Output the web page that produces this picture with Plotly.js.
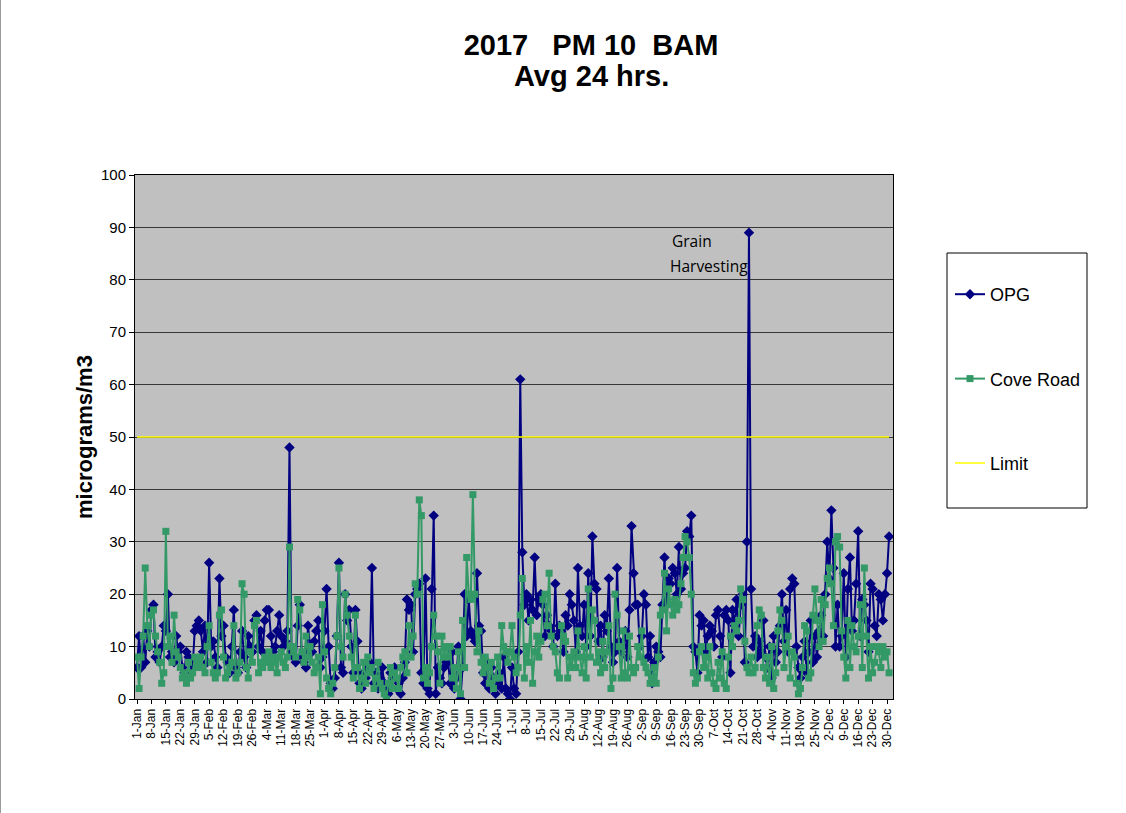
<!DOCTYPE html>
<html>
<head>
<meta charset="utf-8">
<script src="https://cdn.plot.ly/plotly-3.0.1.min.js"></script>
<style>
  html, body { margin: 0; padding: 0; background: #ffffff; }
  #wrap { position: relative; width: 1126px; height: 813px; }
  #chart { width: 1126px; height: 813px; }
  #edge { position: absolute; left: 0; top: 0; width: 1px; height: 813px; background: #9a9a9a; }
</style>
</head>
<body>
<div id="wrap"><div id="chart"></div><div id="edge"></div></div>
<script>
// ---- Categories (the original sheet uses a leap-year date axis: 4-Mar ... 30-Dec) ----
const monthNames = ['Jan','Feb','Mar','Apr','May','Jun','Jul','Aug','Sep','Oct','Nov','Dec'];
const monthLengths = [31,29,31,30,31,30,31,31,30,31,30,31];

// ---- OPG series (daily 24-hr average, micrograms/m3) ----
const opgJan = [6,12,6,12,7,13,10,17,18,8,9,7,10,14,13,20,8,9,7,12,9,10,6,5,9,8,7,6,13,14,15];
const opgFeb = [13,9,14,7,26,10,11,8,6,23,12,14,8,7,5,10,17,6,5,9,13,8,6,12,10,9,15,16,10];
const opgMar = [13,9,15,17,17,12,9,10,13,16,12,10,11,13,48,9,8,7,14,18,8,7,6,14,10,9,11,13,15,6,8];
const opgApr = [13,21,10,3,2,4,12,26,6,5,20,15,17,10,5,17,11,3,2,5,4,6,7,25,3,5,2,4,6,3];
const opgMay = [2,1,5,4,6,2,3,1,4,7,19,17,18,9,20,21,22,5,3,23,2,1,21,35,1,6,4,3,6,7,7];
const opgJun = [3,9,2,4,10,0,6,20,12,19,13,12,11,24,14,13,5,3,7,2,6,4,1,3,5,2,8,2,1,0];
const opgJul = [6,2,1,9,61,28,18,20,15,19,17,27,16,19,20,18,12,16,14,13,10,22,12,14,13,9,16,14,20,18,15];
const opgAug = [9,25,14,12,18,10,24,12,31,22,21,11,14,8,16,13,23,10,7,9,25,11,9,10,13,8,17,33,24,18,18];
const opgSep = [10,12,20,18,8,12,3,7,10,9,8,18,27,19,23,22,25,24,20,29,21,24,25,32,31,35,10,9,5,16];
const opgOct = [14,15,9,12,14,13,10,16,17,12,8,16,17,15,5,17,14,19,12,18,20,7,30,89,21,10,12,8,11,9,15];
const opgNov = [8,6,10,4,12,7,9,14,20,11,17,9,21,23,22,10,6,4,8,11,5,9,15,7,12,8,13,16,12,20];
const opgDec = [30,23,36,25,10,18,10,12,24,8,21,27,13,15,22,32,12,19,18,15,9,22,21,14,12,20,19,15,20,24,31];

// ---- Cove Road series ----
const coveJan = [8,2,8,12,25,14,10,16,17,12,9,7,3,5,32,10,12,7,16,9,8,6,4,5,3,7,4,5,8,6,7];
const coveFeb = [8,6,5,10,14,7,5,4,5,16,17,8,4,5,6,7,14,4,5,7,22,20,6,4,9,7,14,15,5];
const coveMar = [7,6,8,7,9,6,8,7,5,8,9,7,6,8,29,10,9,8,19,17,9,7,12,8,10,7,5,6,8,1,18];
const coveApr = [9,4,2,1,3,6,12,25,10,8,20,16,12,8,4,16,6,2,4,7,3,8,5,6,2,4,7,3,2,1];
const coveMay = [0,3,6,2,5,4,2,6,8,9,5,14,8,12,22,20,38,35,4,6,3,5,10,16,12,9,3,12,8,10,8];
const coveJun = [10,4,6,2,9,1,15,6,27,20,19,39,20,9,13,7,5,8,6,3,7,2,4,8,4,14,10,9,7,9];
const coveJul = [14,8,5,6,16,23,4,10,7,15,3,9,12,8,11,19,20,14,24,12,10,9,5,4,14,12,11,4,8,6,9];
const coveAug = [6,13,8,5,10,4,21,8,17,15,7,9,5,11,6,9,14,2,4,20,16,10,4,13,5,4,12,6,5,6,10];
const coveSep = [8,13,7,6,5,3,4,6,3,8,16,17,24,13,21,18,16,19,17,18,22,27,31,30,27,20,5,3,4,9];
const coveOct = [10,6,8,4,10,5,3,2,7,4,9,3,2,8,12,10,14,13,15,21,19,11,6,5,8,5,6,14,17,16,6];
const coveNov = [4,8,3,10,2,5,13,17,15,6,10,12,4,9,8,3,1,2,6,14,13,4,5,16,21,15,10,19,11,18];
const coveDec = [23,25,22,14,30,31,29,13,8,4,15,6,14,10,9,12,18,6,25,12,4,10,5,7,10,9,6,10,8,9,5];

const limitValue = 50;
const yTicks = [0,10,20,30,40,50,60,70,80,90,100];

// ---- Build category labels ----
const dayLabels = [];
monthNames.forEach((m, mi) => {
  for (let d = 1; d <= monthLengths[mi]; d++) dayLabels.push(d + '-' + m);
});
const weeklyTicks = dayLabels.filter((_, i) => i % 7 === 0);

const opg = [].concat(opgJan, opgFeb, opgMar, opgApr, opgMay, opgJun, opgJul, opgAug, opgSep, opgOct, opgNov, opgDec);
const cove = [].concat(coveJan, coveFeb, coveMar, coveApr, coveMay, coveJun, coveJul, coveAug, coveSep, coveOct, coveNov, coveDec);

const traces = [
  {
    x: dayLabels, y: opg, name: 'OPG', type: 'scatter', mode: 'lines+markers',
    legendgroup: 'a',
    line: { color: '#000080', width: 2 },
    marker: { symbol: 'diamond', size: 8, color: '#000080' }
  },
  {
    x: dayLabels, y: cove, name: 'Cove Road', type: 'scatter', mode: 'lines+markers',
    legendgroup: 'b',
    line: { color: '#339966', width: 2 },
    marker: { symbol: 'square', size: 7, color: '#339966' }
  },
  {
    x: [dayLabels[0], dayLabels[dayLabels.length - 1]], y: [limitValue, limitValue],
    name: 'Limit', type: 'scatter', mode: 'lines', legendgroup: 'c',
    line: { color: '#ffff00', width: 1.5 }
  }
];

const W = 1126, H = 813, L = 135, R = 233, T = 175, B = 114;
const pw = W - L - R, ph = H - T - B;
const px = v => (v - L) / pw;
const py = v => (H - B - v) / ph;
const FONT = 'Arial, "Liberation Sans", sans-serif';

const layout = {
  width: W, height: H,
  margin: { l: L, r: R, t: T, b: B, pad: 0 },
  paper_bgcolor: '#ffffff',
  plot_bgcolor: '#c0c0c0',
  font: { family: FONT, color: '#000000' },
  title: {
    text: '<b>2017\u00a0\u00a0\u00a0PM 10\u00a0\u00a0BAM</b>',
    font: { size: 29, family: FONT, color: '#000' },
    x: 591 / W, xref: 'container', xanchor: 'center',
    y: 1 - 45 / H, yref: 'container', yanchor: 'middle'
  },
  xaxis: {
    type: 'category',
    range: [-0.97, 366.9],
    tickmode: 'array', tickvals: weeklyTicks, ticktext: weeklyTicks,
    tickangle: -90,
    tickfont: { size: 12 },
    ticks: 'outside', ticklen: 4, tickcolor: '#000',
    showgrid: false, zeroline: false,
    showline: true, linecolor: '#000', linewidth: 1, mirror: true,
    fixedrange: true
  },
  yaxis: {
    range: [0, 100],
    tickmode: 'array', tickvals: yTicks,
    tickfont: { size: 15 },
    ticks: 'outside', ticklen: 5, tickcolor: '#000',
    showgrid: true, gridcolor: '#383838', gridwidth: 1,
    zeroline: false,
    showline: true, linecolor: '#000', linewidth: 1, mirror: true,
    title: { text: '<b>micrograms/m3</b>', font: { size: 22 }, standoff: 2 }
  },
  showlegend: true,
  legend: {
    x: px(950), xanchor: 'left',
    y: py(276), yanchor: 'top',
    traceorder: 'grouped', tracegroupgap: 58,
    font: { size: 18 },
    bgcolor: 'rgba(0,0,0,0)', borderwidth: 0,
    itemwidth: 30
  },
  shapes: [
    {
      type: 'rect', xref: 'paper', yref: 'paper',
      x0: px(947), x1: px(1087), y0: py(508), y1: py(253),
      line: { color: '#000', width: 1 }, fillcolor: 'rgba(0,0,0,0)'
    }
  ],
  annotations: [
    {
      text: '<b>Avg 24 hrs.</b>', xref: 'paper', yref: 'paper', x: px(591), y: py(76),
      xanchor: 'center', yanchor: 'middle', showarrow: false,
      font: { size: 29, family: FONT }
    },
    {
      text: 'Grain', xref: 'paper', yref: 'paper', x: px(670), y: py(241),
      xanchor: 'left', yanchor: 'middle', showarrow: false,
      font: { size: 15.5, family: '"Open Sans", Arial, sans-serif' }
    },
    {
      text: 'Harvesting', xref: 'paper', yref: 'paper', x: px(668), y: py(266),
      xanchor: 'left', yanchor: 'middle', showarrow: false,
      font: { size: 15.5, family: '"Open Sans", Arial, sans-serif' }
    }
  ]
};

Plotly.newPlot('chart', traces, layout, { staticPlot: true, displayModeBar: false });
</script>
</body>
</html>
